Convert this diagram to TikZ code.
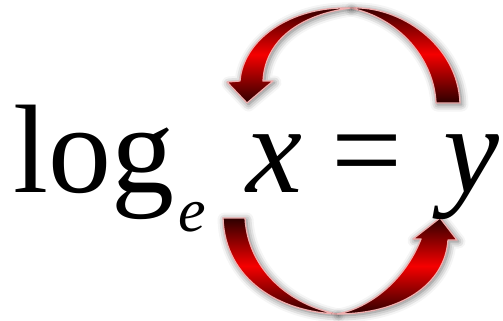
\documentclass[tikz,border=0pt]{standalone}
\usepackage{fontspec}
\setmainfont{Liberation Serif}
\usetikzlibrary{shadows.blur}

\definecolor{arrowdark}{RGB}{45,0,0}
\definecolor{arrowred}{RGB}{245,0,0}
\definecolor{arrowrim}{RGB}{240,175,175}

\tikzset{
  eqtext/.style={inner sep=0pt, anchor=base west, font=\fontsize{126}{126}\selectfont},
  subtext/.style={inner sep=0pt, anchor=base west, font=\fontsize{62}{62}\selectfont\itshape},
  bendarrow/.style={draw=arrowrim, line width=1.3pt, line join=round,
    top color=arrowdark, bottom color=arrowdark, middle color=arrowred,
    blur shadow={shadow xshift=1.5pt, shadow yshift=-1.5pt,
      shadow blur radius=7pt, shadow opacity=60}}
}

\begin{document}
\begin{tikzpicture}[x=1pt, y=-1pt]

% ----------------- Frame (pixel grid of the picture) -----------------
\useasboundingbox (0,0) rectangle (503,321);

% ----------------- Key points of the arrows -----------------
\coordinate (topmeet)  at (350,8);     % where the two halves of the upper arrow meet
\coordinate (toptip)   at (247,103);   % head of the upper arrow
\coordinate (botmeet)  at (337,314);   % where the two halves of the lower arrow meet
\coordinate (bottip)   at (440,218);   % head of the lower arrow

% ----------------- Upper arrow (y back to x) -----------------
\draw[bendarrow]
  (topmeet) .. controls (400,5) and (458,45) .. (460,103)
  -- (436,103) .. controls (434,60) and (400,18) .. (topmeet) -- cycle;
\draw[bendarrow]
  (topmeet) .. controls (290,6) and (243,40) .. (240,81)
  -- (227,82) -- (toptip) -- (273,81) -- (263,81)
  .. controls (265,40) and (300,15) .. (topmeet) -- cycle;

% ----------------- Lower arrow (x over to y) -----------------
\draw[bendarrow]
  (223,218) -- (245,218) .. controls (248,270) and (290,305) .. (botmeet)
  .. controls (280,312) and (225,280) .. (223,218) -- cycle;
\draw[bendarrow]
  (botmeet) .. controls (400,314) and (445,285) .. (448,240)
  -- (457,240) -- (bottip) -- (413,239) -- (421,239)
  .. controls (405,280) and (370,308) .. (botmeet) -- cycle;

% ----------------- Equation -----------------
\node[eqtext]  (log)  at (13,192)  {log};
\node[subtext] (base) at (178,231) {e};
\node[eqtext]  (arg)  at (246,192) {\itshape x};
\node[eqtext]  (eq)   at (331,192) {=};
\node[eqtext]  (val)  at (443,192) {\itshape y};

\end{tikzpicture}
\end{document}
